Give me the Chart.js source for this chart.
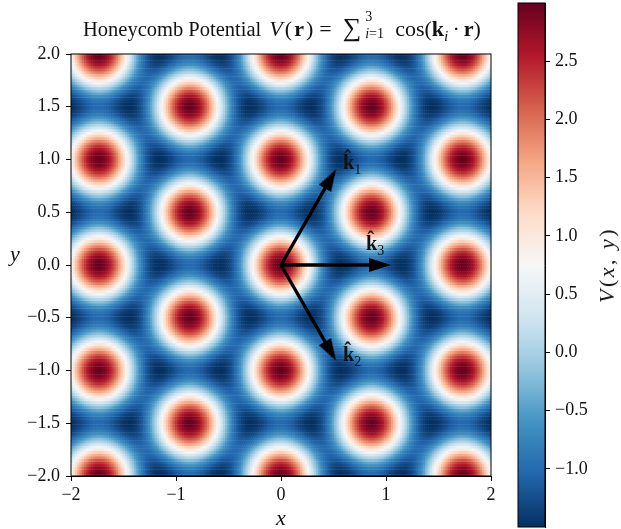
<!DOCTYPE html>
<html>
<head>
<meta charset="utf-8">
<script src="https://cdn.jsdelivr.net/npm/chart.js@4"></script>
<style>
  body { margin: 0; background: #fff; }
  #wrap { position: relative; width: 621px; height: 529px; overflow: hidden; font-family: "Liberation Serif", serif; color: #111; }
  canvas { position: absolute; left: 0; top: 0; }
  .txt { position: absolute; white-space: nowrap; line-height: 1; }
  sub, sup { font-size: 70%; line-height: 0; }
  .lim { display: inline-block; position: relative; width: 34px; height: 1em; vertical-align: baseline; font-size: 20px; }
  .lim span { position: absolute; left: 4px; font-size: 70%; }
  .m { font-size: 22px; }
</style>
</head>
<body>
<div id="wrap">
  <canvas id="heat" width="621" height="529"></canvas>
  <canvas id="bar" width="621" height="529"></canvas>
  <div class="txt" style="left:83px;top:15px;font-size:20.5px">Honeycomb Potential <span class="m" style="letter-spacing:2px;margin-left:3px"><i>V</i>(<b>r</b>)</span><span class="m" style="margin-left:4px">=</span><span style="margin-left:11px;font-size:26px">∑</span><span class="lim"><span style="top:-6px">3</span><span style="top:11px"><i>i</i>=1</span></span><span class="m">cos(<b>k</b><sub><i>i</i></sub><span style="margin:0 4px">·</span><b>r</b>)</span></div>
  <div class="txt" style="left:276px;top:507px;font-size:22px"><i>x</i></div>
  <div class="txt" style="left:10px;top:243px;font-size:22px"><i>y</i></div>
  <div class="txt" style="left:607px;top:265px;font-size:22px;letter-spacing:2.5px;transform:translate(-50%,-50%) rotate(-90deg)"><i>V</i>(<i>x</i>, <i>y</i>)</div>
  <div class="txt" style="left:343px;top:152px;font-size:20px"><b>k̂</b><sub>1</sub></div>
  <div class="txt" style="left:343px;top:344px;font-size:20px"><b>k̂</b><sub>2</sub></div>
  <div class="txt" style="left:366px;top:233px;font-size:20px"><b>k̂</b><sub>3</sub></div>
</div>
<script>
// One repeating tile of the heatmap: rows y = 0 to 0.25, columns x = 0 to 0.866.
// The rest of the picture is this tile mirrored, see the lookup below.
const tile = [
  [3.00,2.98,2.93,2.84,2.71,2.56,2.37,2.16,1.93,1.68,1.41,1.14,.87,.59,.32,.06,-.19,-.42,-.64,-.83,-1.00,-1.15,-1.26,-1.36,-1.43,-1.47,-1.50,-1.50,-1.49,-1.46,-1.41,-1.36,-1.31,-1.25,-1.19,-1.14,-1.09,-1.05,-1.02,-1.01,-1.00],
  [2.98,2.96,2.90,2.81,2.69,2.53,2.35,2.14,1.91,1.66,1.40,1.13,.85,.58,.31,.05,-.20,-.43,-.64,-.83,-1.00,-1.14,-1.26,-1.35,-1.42,-1.46,-1.49,-1.49,-1.47,-1.44,-1.40,-1.35,-1.29,-1.23,-1.17,-1.12,-1.07,-1.03,-1.00,-.98,-.98],
  [2.90,2.88,2.83,2.74,2.62,2.46,2.28,2.08,1.85,1.60,1.35,1.08,.81,.54,.28,.02,-.22,-.45,-.65,-.84,-1.00,-1.14,-1.25,-1.34,-1.40,-1.44,-1.45,-1.45,-1.43,-1.39,-1.35,-1.29,-1.23,-1.17,-1.11,-1.05,-1.00,-.96,-.93,-.91,-.90],
  [2.78,2.77,2.71,2.62,2.50,2.35,2.18,1.97,1.75,1.51,1.26,1.00,.74,.48,.22,-.03,-.26,-.48,-.67,-.85,-1.00,-1.13,-1.23,-1.31,-1.36,-1.39,-1.40,-1.39,-1.36,-1.31,-1.26,-1.20,-1.13,-1.07,-1.00,-.94,-.89,-.84,-.81,-.79,-.78],
  [2.62,2.60,2.55,2.46,2.35,2.20,2.03,1.83,1.62,1.39,1.14,.90,.64,.39,.15,-.09,-.31,-.51,-.70,-.86,-1.00,-1.12,-1.20,-1.27,-1.31,-1.33,-1.32,-1.30,-1.26,-1.21,-1.14,-1.07,-1.00,-.93,-.85,-.79,-.73,-.68,-.65,-.63,-.62],
  [2.41,2.40,2.35,2.27,2.15,2.01,1.85,1.66,1.45,1.23,1.00,.76,.52,.29,.05,-.17,-.37,-.56,-.73,-.88,-1.00,-1.10,-1.17,-1.22,-1.25,-1.25,-1.23,-1.19,-1.14,-1.07,-1.00,-.92,-.84,-.75,-.67,-.60,-.54,-.48,-.45,-.42,-.41],
  [2.18,2.16,2.11,2.04,1.93,1.79,1.64,1.46,1.26,1.05,.83,.61,.38,.16,-.05,-.26,-.45,-.62,-.77,-.90,-1.00,-1.08,-1.14,-1.17,-1.17,-1.16,-1.12,-1.07,-1.00,-.92,-.83,-.74,-.64,-.55,-.46,-.38,-.31,-.25,-.21,-.18,-.18],
  [1.91,1.89,1.85,1.77,1.67,1.55,1.40,1.23,1.04,.85,.64,.43,.23,.02,-.18,-.36,-.53,-.68,-.81,-.92,-1.00,-1.06,-1.09,-1.10,-1.09,-1.05,-1.00,-.93,-.84,-.75,-.64,-.53,-.43,-.32,-.22,-.13,-.06,.01,.05,.08,.09],
  [1.62,1.60,1.56,1.49,1.40,1.28,1.14,.98,.81,.63,.44,.25,.05,-.13,-.31,-.47,-.62,-.75,-.85,-.94,-1.00,-1.04,-1.05,-1.04,-1.00,-.94,-.87,-.78,-.67,-.56,-.44,-.31,-.19,-.07,.04,.14,.22,.29,.34,.37,.38],
  [1.31,1.30,1.26,1.20,1.11,1.00,.87,.72,.56,.39,.22,.05,-.13,-.29,-.45,-.59,-.71,-.82,-.90,-.96,-1.00,-1.01,-1.00,-.96,-.91,-.83,-.73,-.62,-.49,-.36,-.22,-.08,.06,.19,.31,.42,.51,.59,.64,.68,.69],
  [1.00,.99,.95,.89,.81,.71,.59,.45,.31,.16,0,-.16,-.31,-.45,-.59,-.71,-.81,-.89,-.95,-.99,-1.00,-.99,-.95,-.89,-.81,-.71,-.59,-.45,-.31,-.16,0,.16,.31,.45,.59,.71,.81,.89,.95,.99,1.00],
];
const stepX = 0.02165;
const stepY = 0.025;

// Arrow ends
const arrow1 = [{ x: 0, y: 0 }, { x: 0.5, y: 0.866 }];
const arrow2 = [{ x: 0, y: 0 }, { x: 0.5, y: -0.866 }];
const arrow3 = [{ x: 0, y: 0 }, { x: 1, y: 0 }];

const xTickValues = [-2, -1, 0, 1, 2];
const xTickLabels = ["−2", "−1", "0", "1", "2"];
const yTickValues = [-2, -1.5, -1, -0.5, 0, 0.5, 1, 1.5, 2];
const yTickLabels = ["−2.0", "−1.5", "−1.0", "−0.5", "0.0", "0.5", "1.0", "1.5", "2.0"];
const barTickValues = [-1, -0.5, 0, 0.5, 1, 1.5, 2, 2.5];
const barTickLabels = ["−1.0", "−0.5", "0.0", "0.5", "1.0", "1.5", "2.0", "2.5"];

const vMin = -1.5;
const vMax = 3;
// RdBu reversed, low to high
const mapColors = [[5,48,97],[33,102,172],[67,147,195],[146,197,222],[209,229,240],[247,247,247],[253,219,199],[244,165,130],[214,96,77],[178,24,43],[103,0,31]];

function colorFor(v) {
  const t = Math.min(Math.max((v - vMin) / (vMax - vMin), 0), 1) * (mapColors.length - 1);
  const i = Math.min(Math.floor(t), mapColors.length - 2);
  const f = t - i;
  const c = mapColors[i].map((a, n) => Math.round(a + (mapColors[i + 1][n] - a) * f));
  return `rgb(${c[0]},${c[1]},${c[2]})`;
}

// Build the grid by looking each cell up in the tile
const cells = [];
for (let gj = -80; gj <= 80; gj++) {
  for (let gi = -94; gi <= 94; gi++) {
    let a = Math.abs(gi) % 80;
    if (a > 40) a = 80 - a;
    let b = Math.abs(gj) % 40;
    if (b > 20) b = 40 - b;
    if (b > 10) { a = 40 - a; b = 20 - b; }
    cells.push({ x: gi * stepX, y: gj * stepY, v: tile[b][a] });
  }
}
const cellColors = cells.map((c) => colorFor(c.v));

// Arrow head as an image, tip a little past the centre so it covers the line end
function makeHead() {
  const c = document.createElement("canvas");
  c.width = 60;
  c.height = 16;
  const g = c.getContext("2d");
  g.fillStyle = "#000";
  g.beginPath();
  g.moveTo(35, 8);
  g.lineTo(13, 1);
  g.lineTo(13, 15);
  g.closePath();
  g.fill();
  return c;
}
const head = makeHead();

function arrowDataset(points, angle) {
  return {
    data: points,
    showLine: true,
    borderColor: "#000",
    borderWidth: 3.3,
    pointStyle: ["circle", head],
    pointRadius: [0, 5],
    pointRotation: [0, angle],
    order: 1,
  };
}

// Black frame around the plot area
const framePlugin = {
  id: "frame",
  afterDraw(chart) {
    const { left, top, width, height } = chart.chartArea;
    const ctx = chart.ctx;
    ctx.save();
    ctx.strokeStyle = "#000";
    ctx.lineWidth = 1;
    ctx.strokeRect(left, top, width, height);
    ctx.restore();
  },
};

const tickFont = { family: "Liberation Serif", size: 18 };

new Chart(document.getElementById("heat"), {
  type: "scatter",
  data: {
    datasets: [
      arrowDataset(arrow1, -60),
      arrowDataset(arrow2, 60),
      arrowDataset(arrow3, 0),
      {
        data: cells,
        pointStyle: "rect",
        pointRadius: 2.1,
        borderWidth: 0,
        pointBackgroundColor: cellColors,
        clip: 0,
        order: 2,
      },
    ],
  },
  options: {
    responsive: false,
    animation: false,
    events: [],
    layout: { padding: { top: 54, right: 130, left: 0, bottom: 0 } },
    plugins: { legend: { display: false }, tooltip: { enabled: false } },
    scales: {
      x: {
        type: "linear",
        min: -2,
        max: 2,
        afterBuildTicks: (ax) => { ax.ticks = xTickValues.map((v) => ({ value: v })); },
        afterFit: (ax) => { ax.height = 53; },
        grid: { drawOnChartArea: false, color: "#000", tickLength: 5 },
        border: { color: "#000" },
        ticks: { color: "#111", font: tickFont, padding: 3, maxRotation: 0, autoSkip: false,
          callback: (v, i) => xTickLabels[i] },
      },
      y: {
        type: "linear",
        min: -2,
        max: 2,
        afterBuildTicks: (ax) => { ax.ticks = yTickValues.map((v) => ({ value: v })); },
        afterFit: (ax) => { ax.width = 71; },
        grid: { drawOnChartArea: false, color: "#000", tickLength: 5 },
        border: { color: "#000" },
        ticks: { color: "#111", font: tickFont, padding: 6, autoSkip: false,
          callback: (v, i) => yTickLabels[i] },
      },
    },
  },
  plugins: [framePlugin],
});

new Chart(document.getElementById("bar"), {
  type: "bar",
  data: {
    labels: ["V"],
    datasets: [
      {
        data: [[vMin, vMax]],
        barPercentage: 1,
        categoryPercentage: 1,
        borderSkipped: false,
        backgroundColor: (ctx) => {
          const chart = ctx.chart;
          if (!chart.chartArea) return "#fff";
          const sy = chart.scales.y;
          const grad = chart.ctx.createLinearGradient(0, sy.getPixelForValue(vMin), 0, sy.getPixelForValue(vMax));
          mapColors.forEach((c, i) => grad.addColorStop(i / (mapColors.length - 1), `rgb(${c[0]},${c[1]},${c[2]})`));
          return grad;
        },
      },
    ],
  },
  options: {
    responsive: false,
    animation: false,
    events: [],
    layout: { padding: { top: 3, right: 0, left: 518, bottom: 2 } },
    plugins: { legend: { display: false }, tooltip: { enabled: false } },
    scales: {
      x: { display: false },
      y: {
        position: "right",
        min: vMin,
        max: vMax,
        afterBuildTicks: (ax) => { ax.ticks = barTickValues.map((v) => ({ value: v })); },
        afterFit: (ax) => { ax.width = 76; ax.paddingTop = 0; ax.paddingBottom = 0; },
        grid: { drawOnChartArea: false, color: "#000", tickLength: 5 },
        border: { color: "#000" },
        ticks: { color: "#111", font: tickFont, padding: 5, autoSkip: false,
          callback: (v, i) => barTickLabels[i] },
      },
    },
  },
  plugins: [framePlugin],
});
</script>
</body>
</html>
